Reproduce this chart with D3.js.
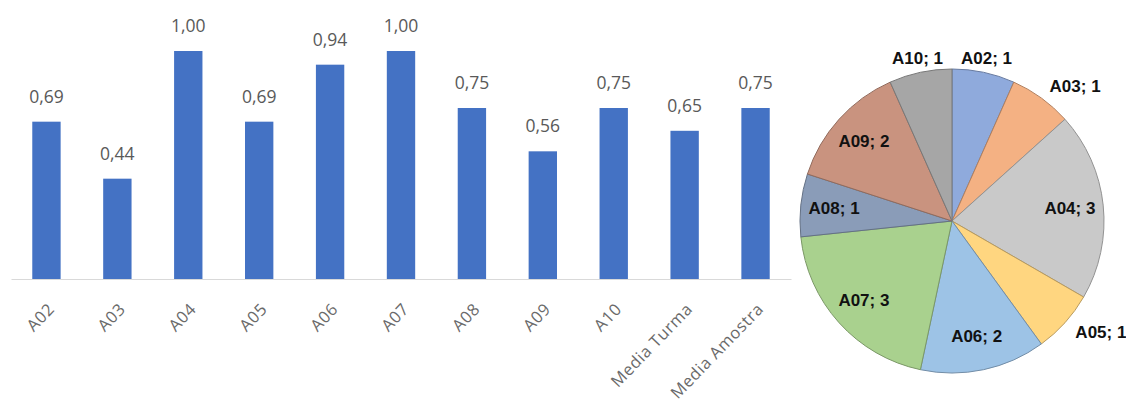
<!DOCTYPE html>
<html>
<head>
<meta charset="utf-8">
<script src="https://cdn.jsdelivr.net/npm/d3@7"></script>
<style>
  body { margin: 0; background: #fff; }
  svg { display: block; }
</style>
</head>
<body>
<div id="chart"></div>
<script>
// Bar chart data
var barCategories = ["A02", "A03", "A04", "A05", "A06", "A07", "A08", "A09", "A10", "Media Turma", "Media Amostra"];
var barValues = [0.69, 0.44, 1.00, 0.69, 0.94, 1.00, 0.75, 0.56, 0.75, 0.65, 0.75];

// Pie chart data
var pieNames = ["A02", "A03", "A04", "A05", "A06", "A07", "A08", "A09", "A10"];
var pieValues = [1, 1, 3, 1, 2, 3, 1, 2, 1];
var pieColors = ["#8FAADC", "#F4B183", "#C9C9C9", "#FFD680", "#9DC3E6", "#A9D18E", "#8A9CB8", "#C9937F", "#A6A6A6"];

var svgWidth = 1126;
var svgHeight = 403;

var svg = d3.select("#chart")
  .append("svg")
  .attr("width", svgWidth)
  .attr("height", svgHeight);

// Bar chart
// ================================
var xScale = d3.scaleBand()
  .domain(barCategories)
  .range([11, 791])
  .paddingInner(0.6)
  .paddingOuter(0.3);

var yScale = d3.scaleLinear()
  .domain([0, 1])
  .range([279, 51]);

var barGroup = svg.append("g");

var xAxis = d3.axisBottom(xScale).tickSize(0).tickPadding(0);

var xAxisGroup = barGroup.append("g")
  .attr("transform", `translate(0, ${yScale(0)})`)
  .call(xAxis);

xAxisGroup.select(".domain")
  .attr("stroke", "#d9d9d9")
  .attr("stroke-width", 1.2);

// rotated category labels, end of text just under each bar
xAxisGroup.selectAll(".tick text")
  .attr("text-anchor", "end")
  .attr("dy", null)
  .attr("y", 0)
  .attr("transform", "translate(9, 31) rotate(-46)")
  .attr("font-family", "Open Sans, sans-serif")
  .attr("font-size", "16.5px")
  .attr("letter-spacing", "0.6px")
  .attr("fill", "#6a6a6a");

barGroup.selectAll("rect.bar")
  .data(barValues)
  .enter()
  .append("rect")
  .attr("class", "bar")
  .attr("x", (d, i) => xScale(barCategories[i]))
  .attr("y", d => yScale(d))
  .attr("width", xScale.bandwidth())
  .attr("height", d => yScale(0) - yScale(d))
  .attr("fill", "#4472C4");

barGroup.selectAll("text.value")
  .data(barValues)
  .enter()
  .append("text")
  .attr("class", "value")
  .attr("x", (d, i) => xScale(barCategories[i]) + xScale.bandwidth() / 2)
  .attr("y", d => yScale(d) - 19)
  .attr("text-anchor", "middle")
  .attr("font-family", "Open Sans, sans-serif")
  .attr("font-size", "17.5px")
  .attr("fill", "#595959")
  .text(d => d3.format(".2f")(d).replace(".", ","));

// Pie chart
// ================================
var cx = 952, cy = 221, radius = 152;

var pieData = pieNames.map((n, i) => ({ name: n, value: pieValues[i], color: pieColors[i] }));

var pie = d3.pie().value(d => d.value).sort(null);
var arc = d3.arc().innerRadius(0).outerRadius(radius);

var pieGroup = svg.append("g")
  .attr("transform", `translate(${cx}, ${cy})`);

var slices = pie(pieData);

pieGroup.selectAll("path")
  .data(slices)
  .enter()
  .append("path")
  .attr("d", arc)
  .attr("fill", d => d.data.color)
  .attr("stroke", d => d3.color(d.data.color).darker(0.9))
  .attr("stroke-width", 1);

// labels: small slices on the top and right go outside, the rest inside
var outsideNames = ["A02", "A03", "A05", "A10"];

pieGroup.selectAll("text")
  .data(slices)
  .enter()
  .append("text")
  .each(function(d) {
    var a = (d.startAngle + d.endAngle) / 2;
    var outside = outsideNames.indexOf(d.data.name) >= 0;
    var r = outside ? radius + 14 : radius * 0.78;
    var x = r * Math.sin(a);
    var y = -r * Math.cos(a);
    var anchor = "middle";
    if (outside) {
      if (Math.sin(a) > 0.4) anchor = "start";
      else if (Math.sin(a) < -0.4) anchor = "end";
    }
    d3.select(this)
      .attr("x", x)
      .attr("y", y)
      .attr("text-anchor", anchor)
      .attr("dominant-baseline", "central");
  })
  .attr("font-family", "Liberation Sans, Arial, sans-serif")
  .attr("font-weight", "bold")
  .attr("font-size", "17px")
  .attr("fill", "#111")
  .text(d => `${d.data.name}; ${d.data.value}`);
</script>
</body>
</html>
